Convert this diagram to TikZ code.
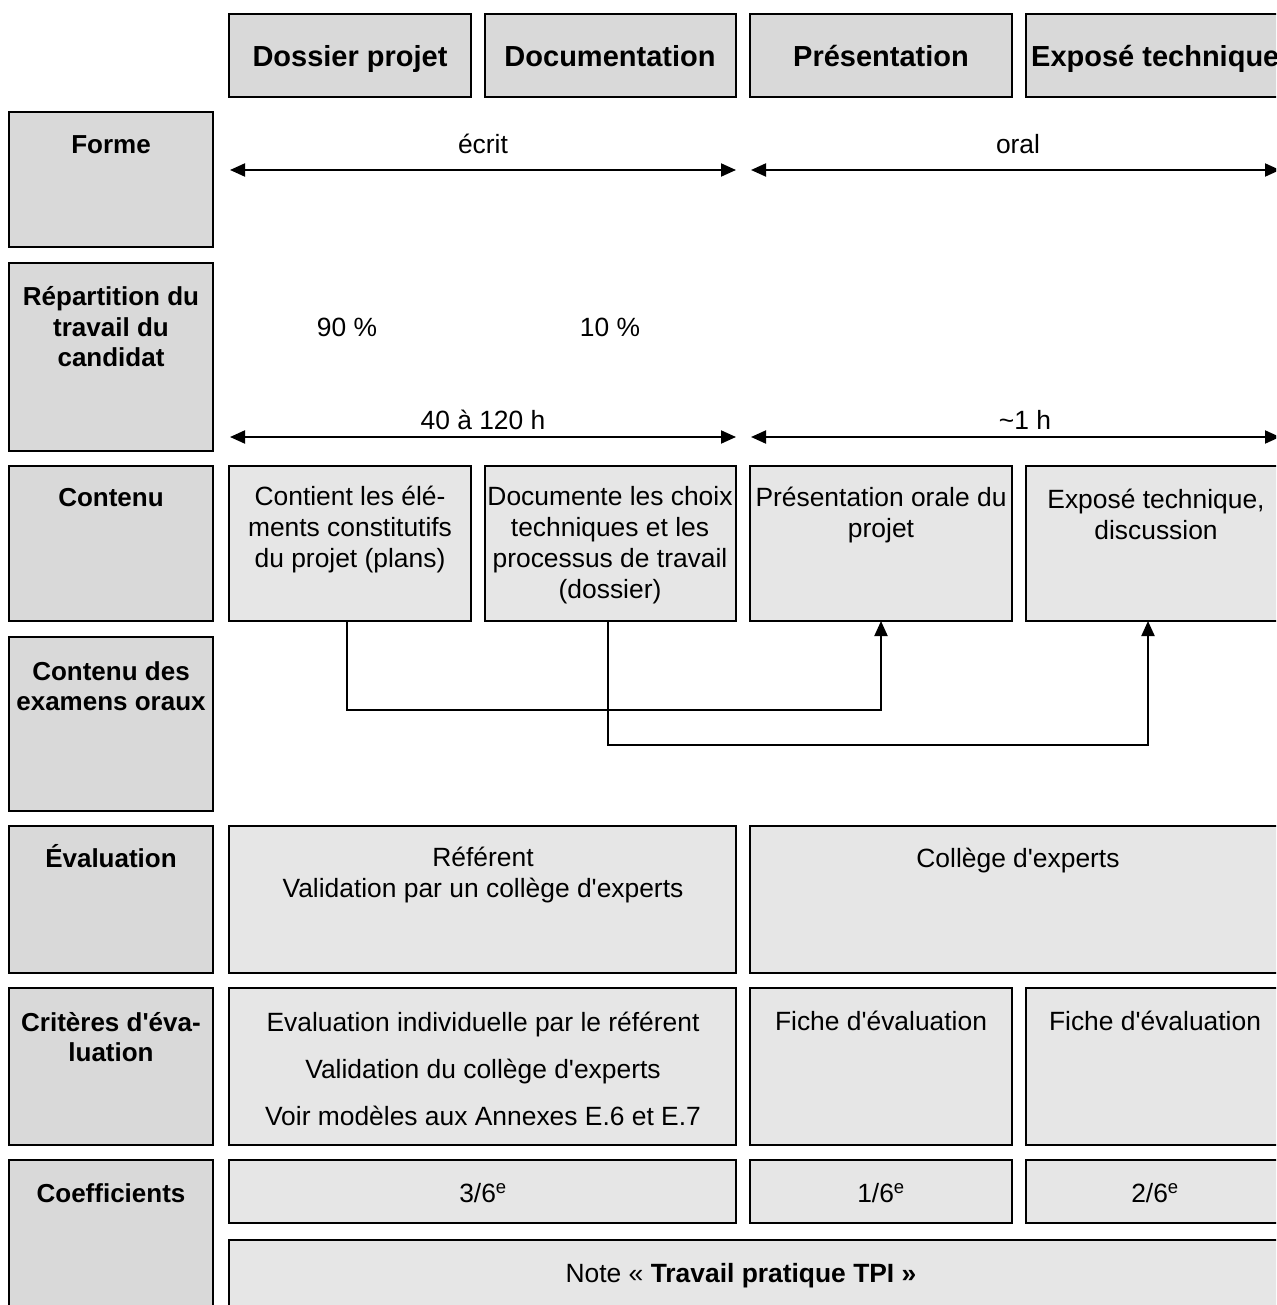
\documentclass[tikz,border=0pt]{standalone}
\usepackage{fontspec}
\setmainfont{Liberation Sans}
\usetikzlibrary{arrows.meta}
\definecolor{hdgray}{HTML}{D9D9D9}
\definecolor{ctgray}{HTML}{E6E6E6}
\newcommand\mybox[6]{\node[#1, minimum width={#4pt-#2pt}, minimum height={#5pt-#3pt}] (#6) at (#2,#3) {};}
\newcommand\sq{\textquotesingle}
\begin{document}
\begin{tikzpicture}[x=1pt,y=-1pt,
  box/.style={draw=black, line width=2.2pt, inner sep=0pt, outer sep=0pt, anchor=north west},
  hd/.style={box, fill=hdgray},
  ct/.style={box, fill=ctgray},
  one/.style={text height=19pt, text depth=0pt},
  txt/.style={inner sep=0pt, align=center, font=\fontsize{26.4}{31}\selectfont},
  ltxt/.style={inner sep=0pt, align=center, font=\fontsize{26}{30.5}\selectfont\bfseries},
  htxt/.style={inner sep=0pt, text height=21pt, text depth=0pt, font=\fontsize{29}{33}\selectfont\bfseries},
  tip/.tip={Triangle[length=15pt,width=13pt]},
  dim/.style={line width=2pt, tip-tip},
  conn/.style={line width=2pt, -tip}
]
\fill[white] (0,0) rectangle (1276,1305);
\useasboundingbox (0,0) rectangle (1276,1305);
\clip (0,0) rectangle (1276,1305);

% header row
\mybox{hd}{229}{14}{471}{97}{h1}
\mybox{hd}{485}{14}{736}{97}{h2}
\mybox{hd}{750}{14}{1012}{97}{h3}
\mybox{hd}{1026}{14}{1290}{97}{h4}
\node[htxt] (th1) at (350,56) {Dossier projet};
\node[htxt] (th2) at (610,56) {Documentation};
\node[htxt] (th3) at (881,56) {Présentation};
\node[htxt, anchor=west] (th4) at (1031,56) {Exposé technique};

% left column
\mybox{hd}{9}{112}{213}{247}{l1}
\mybox{hd}{9}{263}{213}{451}{l2}
\mybox{hd}{9}{466}{213}{621}{l3}
\mybox{hd}{9}{637}{213}{811}{l4}
\mybox{hd}{9}{826}{213}{973}{l5}
\mybox{hd}{9}{988}{213}{1145}{l6}
\mybox{hd}{9}{1160}{213}{1320}{l7}
\node[ltxt, one] (tl1) at (111,144) {Forme};
\node[ltxt] (tl2) at (111,327) {Répartition du\\travail du\\candidat};
\node[ltxt, one] (tl3) at (111,497) {Contenu};
\node[ltxt] (tl4) at (111,686) {Contenu des\\examens oraux};
\node[ltxt, one] (tl5) at (111,858) {Évaluation};
\node[ltxt] (tl6) at (111,1037) {Critères d\sq éva-\\luation};
\node[ltxt, one] (tl7) at (111,1193) {Coefficients};

% Forme row
\node[txt, one] (ecrit) at (483,144) {écrit};
\node[txt, one] (oral) at (1018,144) {oral};
\coordinate (a1) at (230,170);
\coordinate (a2) at (736,170);
\coordinate (a3) at (751,170);
\coordinate (a4) at (1280,170);
\draw[dim] (a1) -- (a2);
\draw[dim] (a3) -- (a4);

% Repartition row
\node[txt, one] (p90) at (347,327) {90 \%};
\node[txt, one] (p10) at (610,327) {10 \%};
\node[txt, one] (dur1) at (483,420) {40 à 120 h};
\node[txt, one] (dur2) at (1025,420) {\textasciitilde1 h};
\coordinate (b1) at (230,437);
\coordinate (b2) at (736,437);
\coordinate (b3) at (751,437);
\coordinate (b4) at (1280,437);
\draw[dim] (b1) -- (b2);
\draw[dim] (b3) -- (b4);

% Contenu row
\mybox{ct}{229}{466}{471}{621}{c1}
\mybox{ct}{485}{466}{736}{621}{c2}
\mybox{ct}{750}{466}{1012}{621}{c3}
\mybox{ct}{1026}{466}{1290}{621}{c4}
\node[txt] (tc1) at (350,530) {Contient les élé-\\ments constitutifs\\du projet (plans)};
\node[txt] (tc2) at (610,545) {Documente les choix\\techniques et les\\processus de travail\\(dossier)};
\node[txt] (tc3) at (881,515) {Présentation orale du\\projet};
\node[txt] (tc4) at (1156,514) {Exposé technique,\\discussion};

% connectors
\coordinate (j1) at (600,710);
\coordinate (j2) at (900,745);
\draw[conn] ([xshift=-3pt]c1.south) |- (j1) -| (c3.south);
\draw[conn] ([xshift=-3pt]c2.south) |- (j2) -| ([xshift=-10pt]c4.south);

% Evaluation row
\mybox{ct}{229}{826}{736}{973}{e1}
\mybox{ct}{750}{826}{1290}{973}{e2}
\node[txt] (te1) at (483,875) {Référent\\Validation par un collège d\sq experts};
\node[txt, one] (te2) at (1018,858) {Collège d\sq experts};

% Criteres row
\mybox{ct}{229}{988}{736}{1145}{k1}
\mybox{ct}{750}{988}{1012}{1145}{k2}
\mybox{ct}{1026}{988}{1290}{1145}{k3}
\node[txt, font=\fontsize{26.4}{47}\selectfont] (tk1) at (483,1069) {Evaluation individuelle par le référent\\Validation du collège d\sq experts\\Voir modèles aux Annexes E.6 et E.7};
\node[txt, one] (tk2) at (881,1021) {Fiche d\sq évaluation};
\node[txt, one] (tk3) at (1155,1021) {Fiche d\sq évaluation};

% Coefficients row
\mybox{ct}{229}{1160}{736}{1223}{f1}
\mybox{ct}{750}{1160}{1012}{1223}{f2}
\mybox{ct}{1026}{1160}{1290}{1223}{f3}
\node[txt, one] (tf1) at (483,1193) {3/6\textsuperscript{e}};
\node[txt, one] (tf2) at (881,1193) {1/6\textsuperscript{e}};
\node[txt, one] (tf3) at (1155,1193) {2/6\textsuperscript{e}};
\mybox{ct}{229}{1240}{1290}{1320}{nb}
\node[txt, one] (tn) at (741,1273) {Note « \textbf{Travail pratique TPI »}};
\end{tikzpicture}
\end{document}
